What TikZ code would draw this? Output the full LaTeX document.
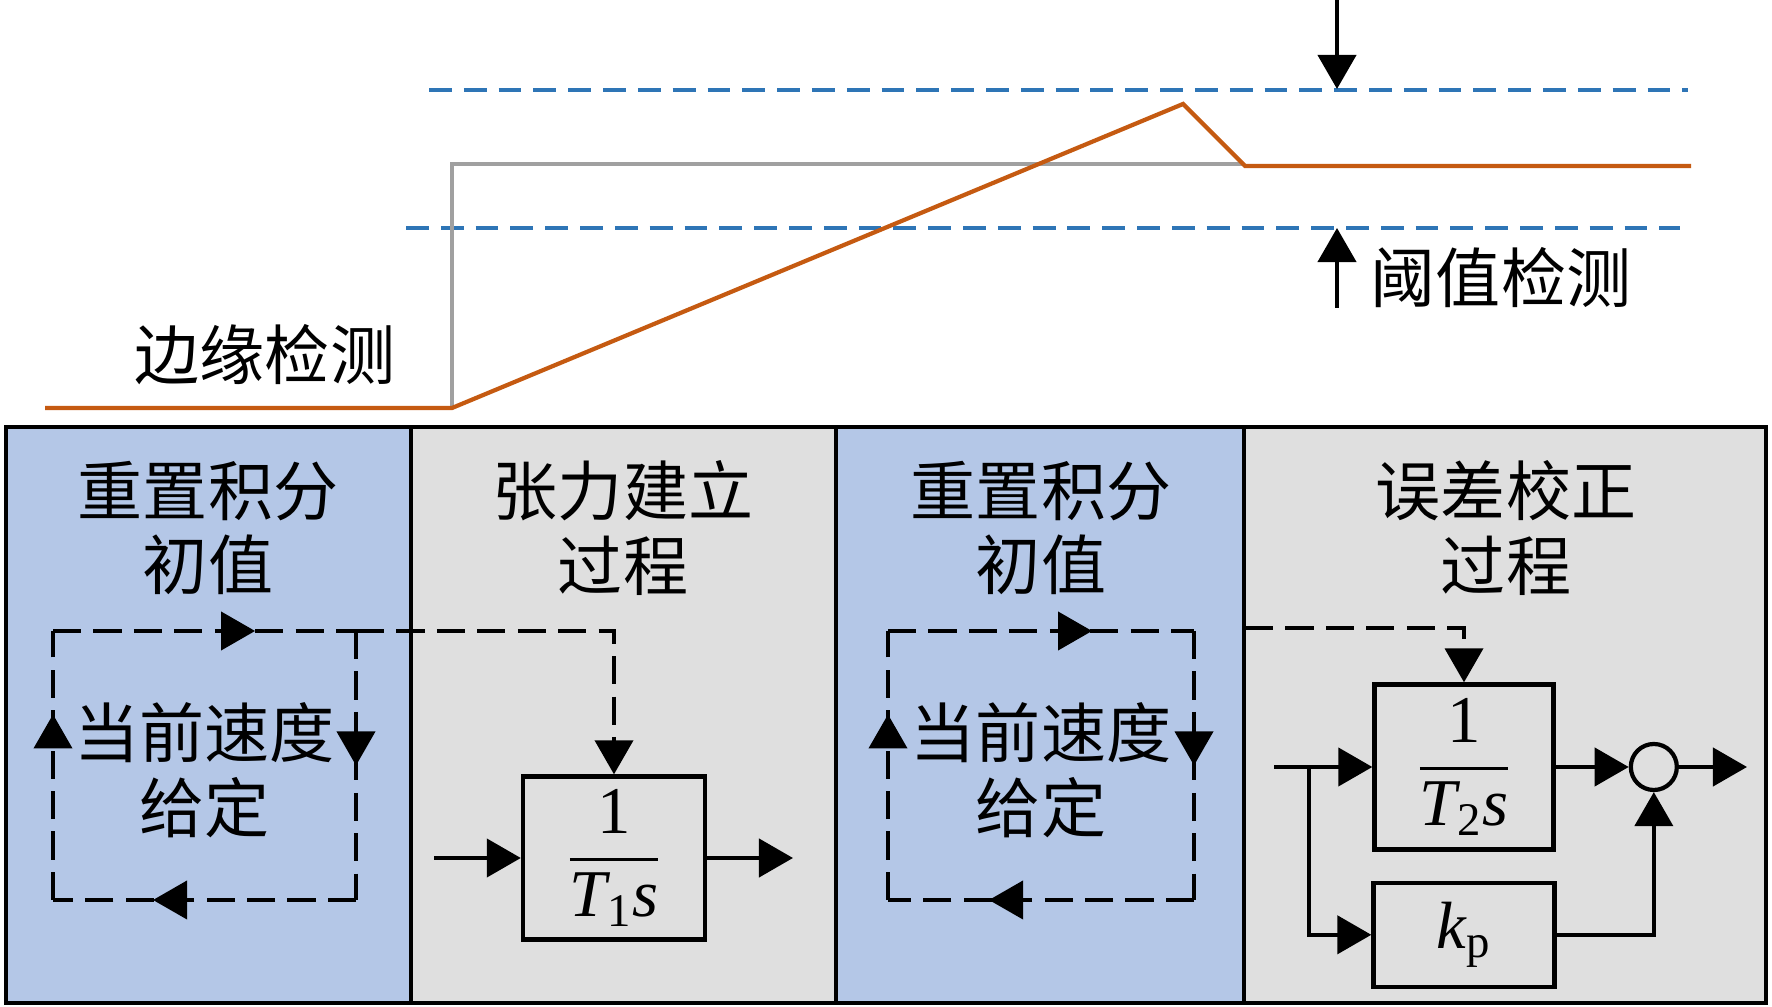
\documentclass[tikz,border=0pt]{standalone}
\usepackage{amsmath}
\usepackage{fontspec}
\setmainfont{Liberation Serif}
\newfontfamily\cjk{Noto Sans CJK SC}
\usetikzlibrary{arrows.meta,positioning,decorations.markings}

\definecolor{panelblue}{RGB}{180,199,231}
\definecolor{panelgray}{RGB}{223,223,223}
\definecolor{rampline}{RGB}{197,90,17}
\definecolor{limitline}{RGB}{46,117,182}
\definecolor{stepline}{RGB}{160,160,160}

\newcommand{\gainfrac}[1]{$\dfrac{\text{1}}{\textit{T}_{\text{#1}}\textit{s}}$}

\begin{document}
\begin{tikzpicture}[x=0.01cm,y=-0.01cm,
  >={Triangle[length=3.4mm,width=3.8mm]},
  label/.style={font=\cjk\fontsize{18.5}{21.3}\selectfont, align=center, inner sep=0pt},
  block/.style={draw, line width=1.2pt, inner sep=0pt, font=\fontsize{19}{23}\selectfont},
  loopline/.style={line width=1.1pt, dash pattern=on 8pt off 3.5pt},
  limit/.style={limitline, line width=1.3pt, dash pattern=on 6.5pt off 3.4pt},
  wire/.style={line width=1.2pt},
  midtip/.style={postaction={decorate}, decoration={markings, mark=at position #1 with {\arrow{>}}}}]
\useasboundingbox (0,0) rectangle (1772,1007);

\draw[limit] (429,90) -- (1688,90);
\draw[limit] (406,228) -- (1680,228);
\draw[stepline, line width=1.1pt] (452,408) -- (452,164) -- (1243,164);
\draw[rampline, line width=1.2pt] (45,408) -- (452,408) -- (1183,104) -- (1245,166) -- (1691,166);
\draw[wire,->] (1337,0) -- (1337,89);
\draw[wire,->] (1337,308) -- (1337,228);
\node[label] (edgetxt) at (265,355) {边缘检测};
\node[label] (thrtxt) at (1501,278) {阈值检测};

\foreach \xa/\xb/\col in {6/411/panelblue, 411/836/panelgray, 836/1244/panelblue, 1244/1766/panelgray}
  \draw[fill=\col, line width=1.1pt] (\xa,427) rectangle (\xb,1003);

\node[label] (title1) at (208,528) {重置积分\\初值};
\node[label] (title2) at (623,528) {张力建立\\过程};
\node[label] (title3) at (1041,528) {重置积分\\初值};
\node[label] (title4) at (1506,528) {误差校正\\过程};

\foreach \lx/\rx/\n in {53/356/a, 888/1194/b} {
  \coordinate (\n-tl) at (\lx,631);
  \coordinate (\n-tr) at (\rx,631);
  \coordinate (\n-br) at (\rx,900);
  \coordinate (\n-bl) at (\lx,900);
  \draw[loopline, midtip=0.667] (\n-tl) -- (\n-tr);
  \draw[loopline, midtip=0.5] (\n-tr) -- (\n-br);
  \draw[loopline, midtip=0.67] (\n-br) -- (\n-bl);
  \draw[loopline, midtip=0.69] (\n-bl) -- (\n-tl);
  \node[label] (\n-txt) at ({(\lx+\rx)/2},770) {当前速度\\给定};
}

\node[block, minimum width=1.82cm, minimum height=1.63cm] (blk1) at (614,858) {\gainfrac{1}};
\coordinate (in1) at (434,858);
\coordinate (out1) at (793,858);
\draw[wire,->] (in1) -- (blk1.west);
\draw[wire,->] (blk1.east) -- (out1);
\draw[loopline,->] (a-tr) -| (blk1.north);

\node[block, minimum width=1.79cm, minimum height=1.65cm] (blk2) at (1464,767) {\gainfrac{2}};
\node[block, minimum width=1.81cm, minimum height=1.04cm, below=0.29cm of blk2] (kp) {$\textit{k}_{\text{p}}$};
\node[draw, circle, line width=1.2pt, minimum size=0.46cm, inner sep=0pt, right=0.73cm of blk2] (sum) {};
\coordinate (in2) at (1274,767);
\coordinate (br2) at (1309,767);
\coordinate (out2) at (1747,767);
\coordinate (b-out) at (1245,628);
\draw[wire,->] (in2) -- (blk2.west);
\draw[wire,->] (br2) |- (kp.west);
\draw[wire,->] (blk2.east) -- (sum.west);
\draw[wire,->] (sum.east) -- (out2);
\draw[wire,->] (kp.east) -| (sum.south);
\draw[loopline,->] (b-out) -| (blk2.north);
\end{tikzpicture}
\end{document}
